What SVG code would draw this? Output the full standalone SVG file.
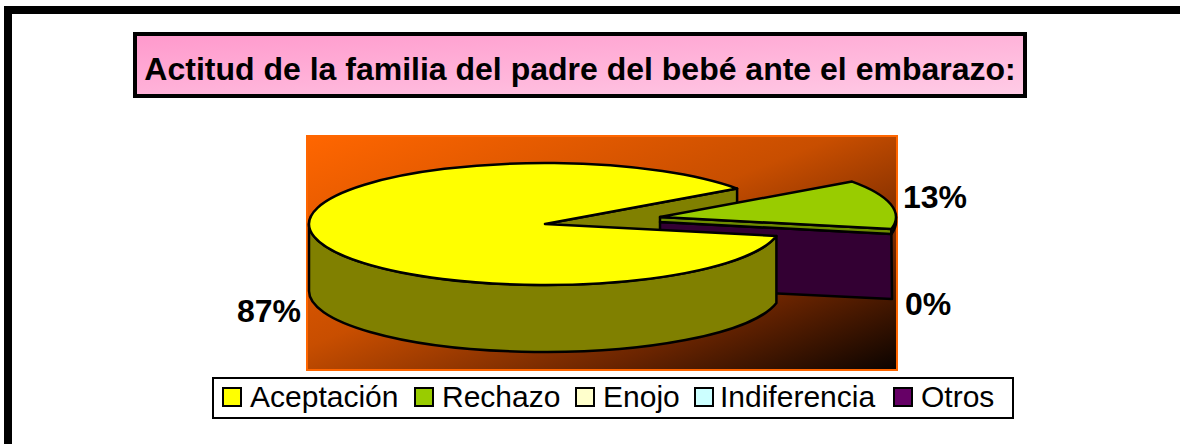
<svg xmlns="http://www.w3.org/2000/svg" width="1180" height="444" viewBox="0 0 1180 444">
<defs>
<linearGradient id="pink" x1="0" y1="0" x2="1" y2="1">
<stop offset="0" stop-color="#FF99CC"/>
<stop offset="1" stop-color="#FFCCE6"/>
</linearGradient>
<linearGradient id="plotbg" x1="0" y1="0" x2="1" y2="1">
<stop offset="0" stop-color="#FF6600"/>
<stop offset="0.45" stop-color="#C84E00"/>
<stop offset="0.75" stop-color="#6A2400"/>
<stop offset="1" stop-color="#0A0300"/>
</linearGradient>
</defs>
<style>
.edge{stroke:#000;stroke-width:2.5;stroke-linejoin:round}
.lbl{font-family:"Liberation Sans",Arial,sans-serif;font-weight:bold;font-size:32px;fill:#000}
.leg{font-family:"Liberation Sans",Arial,sans-serif;font-size:30px;fill:#000}
.sw{stroke:#000;stroke-width:2}
</style>
<rect width="1180" height="444" fill="#FFFFFF"/>
<g id="frame">
<rect x="4" y="6" width="1176" height="8" fill="#000"/>
<rect x="4" y="6" width="8" height="438" fill="#000"/>
</g>
<g id="title">
<rect x="135" y="34" width="890" height="62" fill="url(#pink)" stroke="#000" stroke-width="4"/>
<text x="580" y="80" text-anchor="middle" class="lbl">Actitud de la familia del padre del bebé ante el embarazo:</text>
</g>
<g id="plot-area">
<rect x="307" y="136" width="590" height="234" fill="url(#plotbg)" stroke="#FF6600" stroke-width="2"/>
</g>
<g id="slice-aceptacion-back">
<path class="edge" d="M545,224 L737.1,188.6 L737.1,255.6 L545,291 Z" fill="#808000"/>
</g>
<g id="slice-otros">
<path class="edge" d="M660,222 L891.4,234 L892,299 L660,288 Z" fill="#330033"/>
</g>
<g id="slice-rechazo">
<path class="edge" d="M660,217 L891.4,229 L891.4,234 L660,222 Z" fill="#6F8C00"/>
<path class="edge" d="M896,217 A236,61 0 0 1 891.4,229 L891.4,234 A236,61 0 0 0 896,222 Z" fill="#6F8C00"/>
<path class="edge" d="M660,217 L852.1,181.6 A236,61 0 0 1 891.4,229 Z" fill="#99CC00"/>
</g>
<g id="slice-aceptacion">
<path class="edge" d="M309,224 A236,61 0 0 0 776.4,236 L776.4,303 A236,61 0 0 1 309,291 Z" fill="#808000"/>
<path class="edge" d="M545,224 L776.4,236 A236,61 0 1 1 737.1,188.6 Z" fill="#FFFF00"/>
</g>
<g id="data-labels">
<text x="237" y="322" class="lbl">87%</text>
<text x="903" y="208" class="lbl">13%</text>
<text x="905" y="315" class="lbl">0%</text>
</g>
<g id="legend">
<rect x="213" y="378" width="800" height="40" fill="#FFFFFF" stroke="#000" stroke-width="2"/>
<rect class="sw" x="223" y="388" width="18" height="18" fill="#FFFF00"/>
<text x="250" y="407" class="leg">Aceptación</text>
<rect class="sw" x="415" y="388" width="18" height="18" fill="#99CC00"/>
<text x="442" y="407" class="leg">Rechazo</text>
<rect class="sw" x="576" y="388" width="18" height="18" fill="#FFFFCC"/>
<text x="603" y="407" class="leg">Enojo</text>
<rect class="sw" x="695" y="388" width="18" height="18" fill="#CCFFFF"/>
<text x="720" y="407" class="leg">Indiferencia</text>
<rect class="sw" x="894" y="388" width="18" height="18" fill="#660066"/>
<text x="921" y="407" class="leg">Otros</text>
</g>
</svg>
